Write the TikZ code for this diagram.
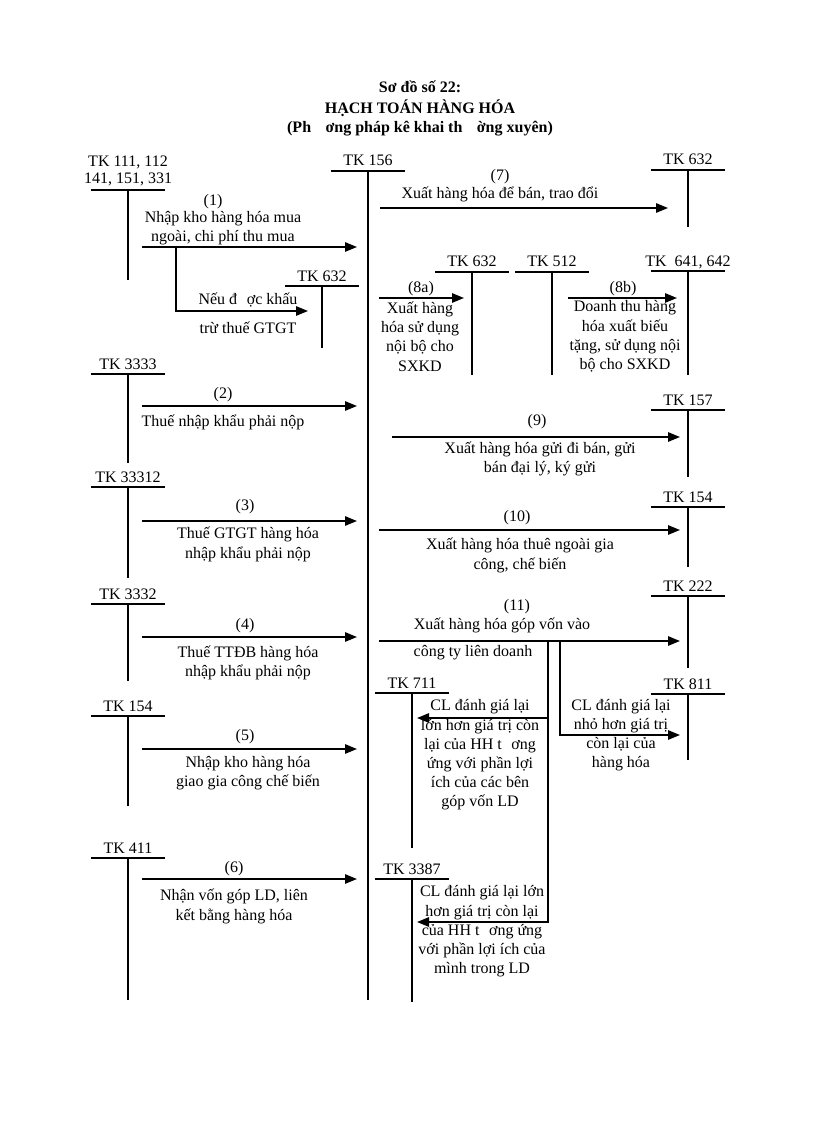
\documentclass[tikz,border=0pt]{standalone}
\usepackage{fontspec}
\setmainfont{Liberation Serif}
\usetikzlibrary{arrows.meta}
\newcommand{\miss}[1][0.6em]{\hspace{#1}}
\tikzset{
	every node/.style={font=\fontsize{12}{14.4}\selectfont},
	titletext/.style={inner sep=0pt, font=\fontsize{12}{14.4}\selectfont\bfseries},
	tklabel/.style={inner sep=0pt, anchor=base},
	tkline/.style={line width=1pt},
	flow/.style={line width=1.4pt, -{Triangle[length=9pt,width=7pt]}},
	note/.style={inner sep=0pt, align=center},
}
\begin{document}
\begin{tikzpicture}[x=0.75pt, y=-0.75pt]
	\useasboundingbox (0,0) rectangle (816,1123);
	% Title:
	\node[titletext] (title1) at (420,87) {Sơ đồ số 22:};
	\node[titletext] (title2) at (420,108) {HẠCH TOÁN HÀNG HÓA};
	\node[titletext] (title3) at (420,129) {(Ph\miss[0.9em]ơng pháp kê khai th\miss[0.9em]ờng xuyên)};
	% Accounts (T shapes):
	\node[inner sep=0pt, align=center, anchor=south] (tk111) at (128,186) {TK 111, 112\\[-2pt]141, 151, 331};
	\draw[tkline] (91,190) -- (165,190);
	\coordinate (tk111-t) at (128,190);
	\coordinate (tk111-b) at (128,280);
	\draw[tkline] (tk111-t) -- (tk111-b);
	\foreach \nm/\x/\yt/\yb/\txt in {tk3333/128/374/463/TK 3333, tk33312/128/487/578/TK 33312,
		tk3332/128/604/681/TK 3332, tk154a/128/716/806/TK 154, tk411/128/858/1000/TK 411,
		tk156/368/171/1000/TK 156, tk632a/322/286/348/TK 632, tk632b/688/170/227/TK 632,
		tk632c/472/272/375/TK 632, tk512/552/272/375/TK 512, tk641/688/271/375/{TK~ 641, 642},
		tk157/688/410/477/TK 157, tk154b/688/507/567/TK 154, tk222/688/596/668/TK 222,
		tk811/688/694/760/TK 811, tk711/412/693/848/TK 711, tk3387/412/879/1002/TK 3387}{
		\node[tklabel] (\nm) at (\x,\yt-5) {\txt};
		\draw[tkline] (\x-37,\yt) -- (\x+37,\yt);
		\coordinate (\nm-t) at (\x,\yt);
		\coordinate (\nm-b) at (\x,\yb);
		\draw[tkline] (\nm-t) -- (\nm-b);
	}
	% Arrows into TK 156:
	\foreach \i/\y in {1/247, 2/406, 3/521, 4/637, 5/749, 6/879}{
		\coordinate (in\i-s) at (142,\y);
		\coordinate (in\i-e) at (357,\y);
		\draw[flow] (in\i-s) -- (in\i-e);
	}
	\coordinate (b1) at (176,247);
	\coordinate (b1a) at (176,311);
	\coordinate (e632a) at (308,311);
	\draw[flow] (b1) -- (b1a) -- (e632a);
	% Arrows out of TK 156:
	\foreach \i/\xs/\xe/\y in {7/380/668/208, 8a/379/464/298, 8b/568/677/298,
		9/392/680/437, 10/379/680/530, 11/379/680/641}{
		\coordinate (out\i-s) at (\xs,\y);
		\coordinate (out\i-e) at (\xe,\y);
		\draw[flow] (out\i-s) -- (out\i-e);
	}
	\coordinate (br1) at (548,641);
	\coordinate (br1a) at (548,718);
	\coordinate (br1b) at (548,922);
	\coordinate (e711) at (417,718);
	\coordinate (e3387) at (417,922);
	\coordinate (br2) at (560,641);
	\coordinate (br2a) at (560,735);
	\coordinate (e811) at (680,735);
	\draw[flow] (br1) -- (br1b) -- (e3387);
	\draw[flow] (br1a) -- (e711);
	\draw[flow] (br2) -- (br2a) -- (e811);
	% Texts on the left:
	\node[note] (n1) at (213,202) {(1)};
	\node[note] (n1t) at (223,228.5) {Nhập kho hàng hóa mua\\ngoài, chi phí thu mua};
	\node[note] (n1b) at (248,300) {Nếu đ\miss ợc khấu};
	\node[note] (n1c) at (248,328) {trừ thuế GTGT};
	\node[note] (n2) at (223,395) {(2)};
	\node[note] (n2t) at (223,422) {Thuế nhập khẩu phải nộp};
	\node[note] (n3) at (245,507) {(3)};
	\node[note] (n3t) at (248,544.5) {Thuế GTGT hàng hóa\\nhập khẩu phải nộp};
	\node[note] (n4) at (245,626) {(4)};
	\node[note] (n4t) at (248,663) {Thuế TTĐB hàng hóa\\nhập khẩu phải nộp};
	\node[note] (n5) at (245,737) {(5)};
	\node[note] (n5t) at (248,773.5) {Nhập kho hàng hóa\\giao gia công chế biến};
	\node[note] (n6) at (234,869) {(6)};
	\node[note] (n6t) at (234,906.5) {Nhận vốn góp LD, liên\\kết bằng hàng hóa};
	% Texts on the right:
	\node[note] (n7) at (500,177) {(7)};
	\node[note] (n7t) at (500,194) {Xuất hàng hóa để bán, trao đổi};
	\node[note] (n8a) at (421,289) {(8a)};
	\node[note] (n8at) at (420,336.5) {Xuất hàng\\hóa sử dụng\\nội bộ cho\\SXKD};
	\node[note] (n8b) at (623,289) {(8b)};
	\node[note] (n8bt) at (625,336.5) {Doanh thu hàng\\hóa xuất biếu\\tặng, sử dụng nội\\bộ cho SXKD};
	\node[note] (n9) at (537,422) {(9)};
	\node[note] (n9t) at (540,459) {Xuất hàng hóa gửi đi bán, gửi\\bán đại lý, ký gửi};
	\node[note] (n10) at (517,518) {(10)};
	\node[note] (n10t) at (520,555.5) {Xuất hàng hóa thuê ngoài gia\\công, chế biến};
	\node[note] (n11) at (517,607) {(11)};
	\node[note] (n11t) at (502,625) {Xuất hàng hóa góp vốn vào};
	\node[note] (n11b) at (473,653) {công ty liên doanh};
	\node[note] (n711) at (480,755) {CL đánh giá lại\\lớn hơn giá trị còn\\lại của HH t\miss ơng\\ứng với phần lợi\\ích của các bên\\góp vốn LD};
	\node[note] (n811) at (621,735) {CL đánh giá lại\\nhỏ hơn giá trị\\còn lại của\\hàng hóa};
	\node[note] (n3387) at (482,931.5) {CL đánh giá lại lớn\\hơn giá trị còn lại\\của HH t\miss ơng ứng\\với phần lợi ích của\\mình trong LD};
\end{tikzpicture}
\end{document}
